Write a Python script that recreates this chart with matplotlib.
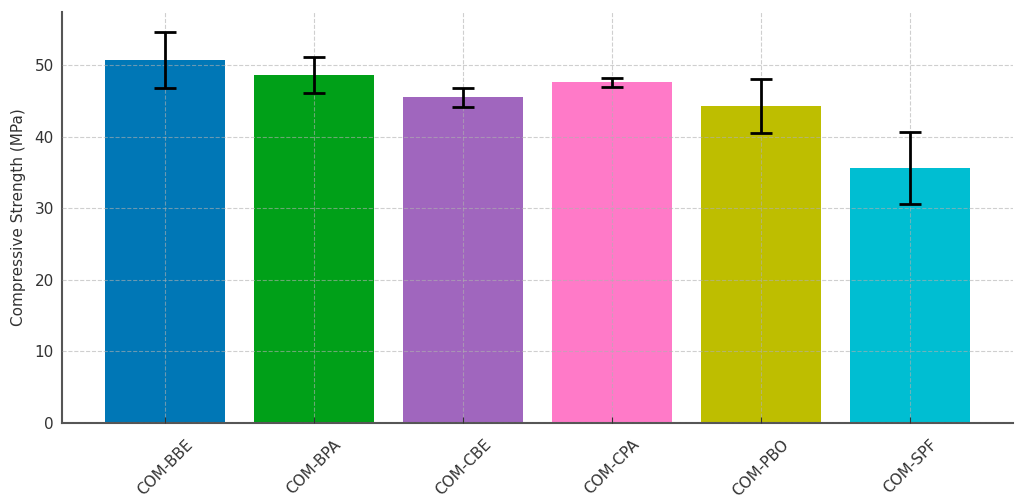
import matplotlib
matplotlib.use("Agg")
import matplotlib.pyplot as plt

# values
samples = ["COM-BBE", "COM-BPA", "COM-CBE", "COM-CPA", "COM-PBO", "COM-SPF"]
strength = [50.7, 48.6, 45.5, 47.6, 44.3, 35.6]
std_dev = [3.9, 2.5, 1.3, 0.6, 3.8, 5.0]
bar_colors = ["#0077b6", "#00a018", "#a066be", "#ff7ac8", "#bebe00", "#00bed2"]

fig, ax = plt.subplots(figsize=(10.21, 5.03), dpi=100)

ax.bar(samples, strength, yerr=std_dev, color=bar_colors, width=0.8, zorder=1,
       capsize=8, error_kw={"elinewidth": 2, "capthick": 2, "ecolor": "black", "zorder": 5})

ax.set_ylabel("Compressive Strength (MPa)", fontsize=11, color="#333333", labelpad=6)
ax.set_ylim(0, 57.4)
ax.tick_params(axis="x", labelrotation=45, direction="in", labelsize=11, colors="#333333",
               length=4, pad=10)
ax.tick_params(axis="y", direction="in", labelsize=11, colors="#333333", length=0, pad=6)

ax.grid(True, linestyle="--", color="#b0b0b0", linewidth=0.8, alpha=0.6, zorder=2)
ax.set_axisbelow(False)

ax.spines["top"].set_visible(False)
ax.spines["right"].set_visible(False)
for side in ["left", "bottom"]:
    ax.spines[side].set_color("#555555")
    ax.spines[side].set_linewidth(1.5)

fig.subplots_adjust(left=0.061, right=0.992, top=0.976, bottom=0.159)
fig.savefig("out.png")
